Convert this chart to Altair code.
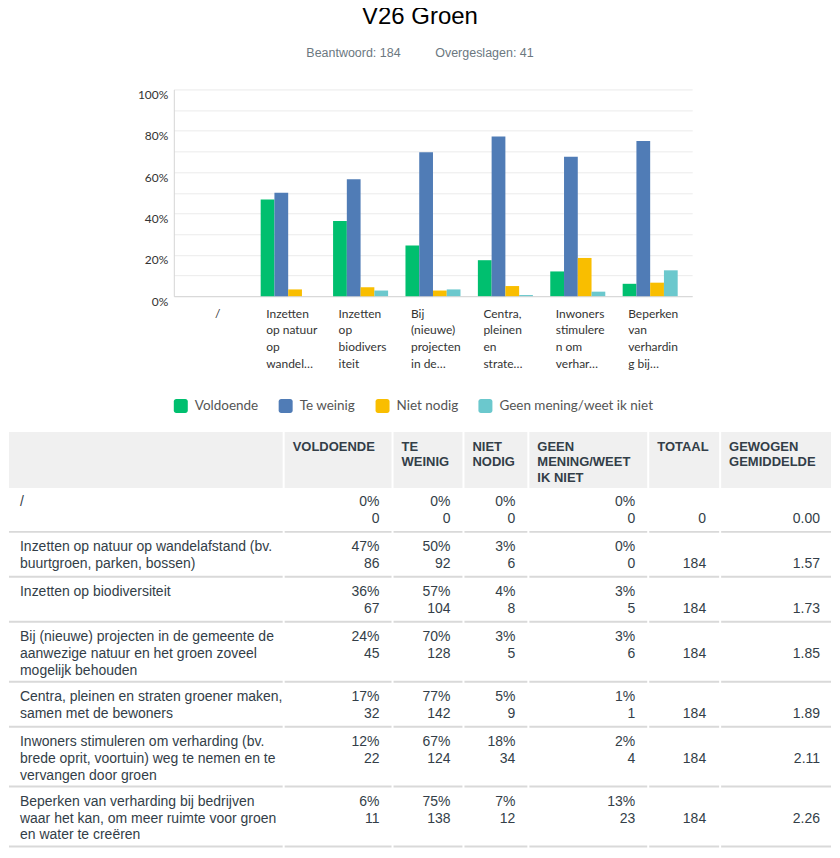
import altair as alt
import pandas as pd

# ---------------- data ----------------
categories = [
    "/",
    "Inzetten op natuur op wandelafstand (bv. buurtgroen, parken, bossen)",
    "Inzetten op biodiversiteit",
    "Bij (nieuwe) projecten in de gemeente de aanwezige natuur en het groen zoveel mogelijk behouden",
    "Centra, pleinen en straten groener maken, samen met de bewoners",
    "Inwoners stimuleren om verharding (bv. brede oprit, voortuin) weg te nemen en te vervangen door groen",
    "Beperken van verharding bij bedrijven waar het kan, om meer ruimte voor groen en water te creëren",
]
table_label_lines = [
    ["/"],
    ["Inzetten op natuur op wandelafstand (bv.", "buurtgroen, parken, bossen)"],
    ["Inzetten op biodiversiteit"],
    ["Bij (nieuwe) projecten in de gemeente de", "aanwezige natuur en het groen zoveel", "mogelijk behouden"],
    ["Centra, pleinen en straten groener maken,", "samen met de bewoners"],
    ["Inwoners stimuleren om verharding (bv.", "brede oprit, voortuin) weg te nemen en te", "vervangen door groen"],
    ["Beperken van verharding bij bedrijven", "waar het kan, om meer ruimte voor groen", "en water te creëren"],
]
axis_labels = [
    "/",
    "Inzetten|op natuur|op|wandel…",
    "Inzetten|op|biodivers|iteit",
    "Bij|(nieuwe)|projecten|in de…",
    "Centra,|pleinen|en|strate…",
    "Inwoners|stimulere|n om|verhar…",
    "Beperken|van|verhardin|g bij…",
]
series = ["Voldoende", "Te weinig", "Niet nodig", "Geen mening/weet ik niet"]
header_labels = ["", "VOLDOENDE", "TE\nWEINIG", "NIET\nNODIG", "GEEN\nMENING/WEET\nIK NIET", "TOTAAL", "GEWOGEN\nGEMIDDELDE"]

voldoende_pct = ["0%", "47%", "36%", "24%", "17%", "12%", "6%"]
te_weinig_pct = ["0%", "50%", "57%", "70%", "77%", "67%", "75%"]
niet_nodig_pct = ["0%", "3%", "4%", "3%", "5%", "18%", "7%"]
geen_mening_pct = ["0%", "0%", "3%", "3%", "1%", "2%", "13%"]
voldoende_n = [0, 86, 67, 45, 32, 22, 11]
te_weinig_n = [0, 92, 104, 128, 142, 124, 138]
niet_nodig_n = [0, 6, 8, 5, 9, 34, 12]
geen_mening_n = [0, 0, 5, 6, 1, 4, 23]
totaal = [0, 184, 184, 184, 184, 184, 184]
gewogen = ["0.00", "1.57", "1.73", "1.85", "1.89", "2.11", "2.26"]

title_text = "V26 Groen"
subtitle_text = "Beantwoord: 184" + "\u00a0" * 10 + "Overgeslagen: 41"
y_ticks = [0, 0.1, 0.2, 0.3, 0.4, 0.5, 0.6, 0.7, 0.8, 0.9, 1.0]

# ---------------- style / layout ----------------
colors = ["#00BF6F", "#507CB6", "#F9BE00", "#6BC8CD"]
CHART_FONT = "Lato"
TABLE_FONT = "Liberation Sans"
TEXT_COLOR = "#333e48"
COL_EDGES = [0, 275, 384, 455, 520, 640, 712, 824]
HEADER_H = 56
LINE_H = 17
ROW_H2 = 45
ROW_H_EXTRA = 15
LEFT_SPACER = 128
ROUNDED = ("M-1,-0.65 A0.35,0.35 0 0 1 -0.65,-1 L0.65,-1 A0.35,0.35 0 0 1 1,-0.65 "
           "L1,0.65 A0.35,0.35 0 0 1 0.65,1 L-0.65,1 A0.35,0.35 0 0 1 -1,0.65 Z")

# ---------------- bar chart ----------------
counts = [voldoende_n, te_weinig_n, niet_nodig_n, geen_mening_n]
bar_rows = []
for i, lab in enumerate(axis_labels):
    for s, name in enumerate(series):
        tot = totaal[i]
        bar_rows.append({"tick": lab, "series": name,
                         "share": (counts[s][i] / tot) if tot else 0.0})
bar_df = pd.DataFrame(bar_rows)

bars = alt.Chart(bar_df).mark_bar().encode(
    x=alt.X("tick:N", sort=axis_labels, scale=alt.Scale(paddingInner=0.24),
            axis=alt.Axis(title=None, labelAngle=0, grid=False,
                          labelExpr="split(datum.label, '|')",
                          labelAlign={"condition": {"test": "datum.value == '/'", "value": "center"}, "value": "left"},
                          labelOffset={"condition": {"test": "datum.value == '/'", "value": 2}, "value": -22},
                          labelBaseline="top", labelPadding=12, labelLineHeight=16.7,
                          ticks=False, domainColor="#d5d5d5", labelFont=CHART_FONT,
                          labelFontSize=12, labelColor="#333", labelLimit=300)),
    xOffset=alt.XOffset("series:N", sort=series, scale=alt.Scale(paddingInner=0, paddingOuter=0)),
    y=alt.Y("share:Q", scale=alt.Scale(domain=[0, 1], nice=False),
            axis=alt.Axis(title=None, values=y_ticks, grid=True,
                          labelExpr="round(datum.value*10)%2==0 ? format(datum.value,'.0%') : ''",
                          ticks=False, domainColor="#d5d5d5", gridColor="#ebebeb",
                          labelBaseline="top", labelPadding=6, labelFont=CHART_FONT,
                          labelFontSize=12, labelColor="#333")),
    color=alt.Color("series:N", sort=series,
                    scale=alt.Scale(domain=series, range=colors),
                    legend=alt.Legend(title=None, orient="bottom", direction="horizontal",
                                      symbolType=ROUNDED, symbolSize=196, symbolStrokeWidth=0,
                                      symbolOpacity=1, labelFont=CHART_FONT, labelFontSize=13.5,
                                      labelColor="#555", columnPadding=19, labelOffset=7,
                                      offset=29)),
).properties(width=519, height=207)

# invisible spacer that sets the chart's left indent
spacer = alt.Chart(pd.DataFrame({"v": [0]})).mark_point(opacity=0).properties(
    width=LEFT_SPACER, height=1)

top = alt.hconcat(spacer, bars, spacing=0).resolve_legend(color="independent")

# ---------------- table ----------------
row_tops = []
y = HEADER_H
for i in range(len(categories)):
    n = max(len(table_label_lines[i]), 2)
    h = ROW_H2 + ROW_H_EXTRA * (n - 2)
    row_tops.append((y, y + h))
    y += h
TABLE_H = y
TABLE_W = COL_EDGES[-1]

xs = alt.Scale(domain=[0, TABLE_W], nice=False, zero=False)
ys = alt.Scale(domain=[0, TABLE_H], nice=False, zero=False, reverse=True)

hdr_df = pd.DataFrame({
    "x": [COL_EDGES[i] + (1 if i else 0) for i in range(7)],
    "x2": [COL_EDGES[i + 1] - 1 for i in range(7)],
    "y": [0] * 7, "y2": [HEADER_H] * 7,
    "tx": [COL_EDGES[i] + 9 for i in range(7)],
    "ty": [9] * 7,
    "text": header_labels,
})
hdr_bg = alt.Chart(hdr_df).mark_rect(color="#f0f0f0").encode(
    x=alt.X("x:Q", scale=xs, axis=None), x2="x2:Q",
    y=alt.Y("y:Q", scale=ys, axis=None), y2="y2:Q")
hdr_txt = alt.Chart(hdr_df).mark_text(align="left", baseline="top", lineBreak="\n",
                                      font=TABLE_FONT, fontSize=13, fontWeight="bold",
                                      lineHeight=15.5, color=TEXT_COLOR).encode(
    x=alt.X("tx:Q", scale=xs, axis=None), y=alt.Y("ty:Q", scale=ys, axis=None), text="text:N")

sep_rows = []
for i, (t, b) in enumerate(row_tops):
    for c in range(7):
        sep_rows.append({"x": COL_EDGES[c] + (1 if c else 0), "x2": COL_EDGES[c + 1] - 1, "y": b - 1})
sep_df = pd.DataFrame(sep_rows)
seps = alt.Chart(sep_df).mark_rule(color="#d9d9d9", strokeWidth=2).encode(
    x=alt.X("x:Q", scale=xs, axis=None), x2="x2:Q", y=alt.Y("y:Q", scale=ys, axis=None))

left_rows, right_rows = [], []
pct_cols = [voldoende_pct, te_weinig_pct, niet_nodig_pct, geen_mening_pct]
for i, (t, b) in enumerate(row_tops):
    left_rows.append({"x": 11, "y": t + 7, "text": "\n".join(table_label_lines[i])})
    for c in range(4):
        rx = COL_EDGES[c + 2] - 13
        right_rows.append({"x": rx, "y": t + 7, "text": pct_cols[c][i]})
        right_rows.append({"x": rx, "y": t + 24, "text": str(counts[c][i])})
    right_rows.append({"x": COL_EDGES[6] - 14, "y": t + 24, "text": str(totaal[i])})
    right_rows.append({"x": COL_EDGES[7] - 12, "y": t + 24, "text": gewogen[i]})

left_txt = alt.Chart(pd.DataFrame(left_rows)).mark_text(
    align="left", baseline="top", lineBreak="\n", font=TABLE_FONT, fontSize=14,
    lineHeight=17, color=TEXT_COLOR).encode(
    x=alt.X("x:Q", scale=xs, axis=None), y=alt.Y("y:Q", scale=ys, axis=None), text="text:N")
right_txt = alt.Chart(pd.DataFrame(right_rows)).mark_text(
    align="right", baseline="top", font=TABLE_FONT, fontSize=14, color=TEXT_COLOR).encode(
    x=alt.X("x:Q", scale=xs, axis=None), y=alt.Y("y:Q", scale=ys, axis=None), text="text:N")

table = alt.layer(hdr_bg, seps, hdr_txt, left_txt, right_txt).properties(
    width=TABLE_W, height=TABLE_H)

chart = alt.vconcat(top, table, spacing=19).resolve_legend(color="independent").properties(
    title=alt.TitleParams(title_text, subtitle=subtitle_text, anchor="middle",
                          font=TABLE_FONT, fontSize=24, fontWeight="normal", color="#000",
                          subtitleFont=TABLE_FONT, subtitleFontSize=12.5,
                          subtitleColor="#6b787f", subtitlePadding=18, offset=28),
    padding={"left": 0, "top": -4, "right": 0, "bottom": 0},
).configure_view(strokeWidth=0)

chart.save("out.html", embed_options={"renderer": "svg", "actions": False})
